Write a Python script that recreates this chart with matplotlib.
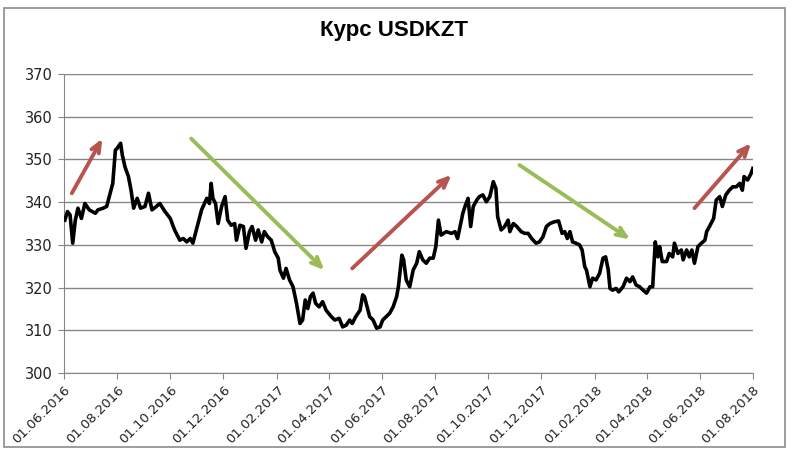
import pandas as pd
import matplotlib
matplotlib.use("Agg")
import matplotlib.pyplot as plt
import matplotlib.dates as mdates
from matplotlib.patches import Rectangle

# exchange rate USD/KZT
dates = [
    "2016-06-02", "2016-06-05", "2016-06-08", "2016-06-11", "2016-06-14", "2016-06-17",
    "2016-06-21", "2016-06-25", "2016-06-30", "2016-07-07", "2016-07-10", "2016-07-16",
    "2016-07-20", "2016-07-24", "2016-07-27", "2016-07-30", "2016-08-01", "2016-08-05",
    "2016-08-07", "2016-08-10", "2016-08-14", "2016-08-17", "2016-08-20", "2016-08-24",
    "2016-08-28", "2016-09-02", "2016-09-06", "2016-09-10", "2016-09-15", "2016-09-19",
    "2016-09-25", "2016-10-01", "2016-10-06", "2016-10-10", "2016-10-12", "2016-10-16",
    "2016-10-20", "2016-10-24", "2016-10-27", "2016-10-31", "2016-11-06", "2016-11-12",
    "2016-11-15", "2016-11-17", "2016-11-19", "2016-11-22", "2016-11-25", "2016-11-29",
    "2016-12-03", "2016-12-06", "2016-12-10", "2016-12-14", "2016-12-16", "2016-12-20",
    "2016-12-24", "2016-12-27", "2016-12-31", "2017-01-03", "2017-01-07", "2017-01-10",
    "2017-01-14", "2017-01-17", "2017-01-21", "2017-01-25", "2017-01-29", "2017-02-02",
    "2017-02-04", "2017-02-08", "2017-02-11", "2017-02-15", "2017-02-19", "2017-02-23",
    "2017-02-27", "2017-03-02", "2017-03-05", "2017-03-08", "2017-03-11", "2017-03-14",
    "2017-03-17", "2017-03-21", "2017-03-25", "2017-03-29", "2017-04-04", "2017-04-08",
    "2017-04-13", "2017-04-17", "2017-04-21", "2017-04-25", "2017-04-28", "2017-05-02",
    "2017-05-07", "2017-05-10", "2017-05-12", "2017-05-15", "2017-05-18", "2017-05-22",
    "2017-05-26", "2017-05-30", "2017-06-02", "2017-06-06", "2017-06-10", "2017-06-14",
    "2017-06-18", "2017-06-20", "2017-06-24", "2017-06-26", "2017-06-29", "2017-07-03",
    "2017-07-07", "2017-07-11", "2017-07-14", "2017-07-18", "2017-07-22", "2017-07-26",
    "2017-07-30", "2017-08-02", "2017-08-05", "2017-08-08", "2017-08-14", "2017-08-20",
    "2017-08-24", "2017-08-27", "2017-08-29", "2017-09-02", "2017-09-05", "2017-09-08",
    "2017-09-11", "2017-09-14", "2017-09-18", "2017-09-21", "2017-09-25", "2017-09-29",
    "2017-10-03", "2017-10-07", "2017-10-10", "2017-10-12", "2017-10-16", "2017-10-20",
    "2017-10-24", "2017-10-26", "2017-10-30", "2017-11-03", "2017-11-08", "2017-11-12",
    "2017-11-16", "2017-11-20", "2017-11-25", "2017-11-29", "2017-12-03", "2017-12-07",
    "2017-12-11", "2017-12-16", "2017-12-21", "2017-12-25", "2017-12-28", "2017-12-31",
    "2018-01-03", "2018-01-06", "2018-01-10", "2018-01-14", "2018-01-17", "2018-01-20",
    "2018-01-22", "2018-01-26", "2018-01-29", "2018-02-02", "2018-02-06", "2018-02-10",
    "2018-02-13", "2018-02-16", "2018-02-18", "2018-02-21", "2018-02-25", "2018-02-28",
    "2018-03-05", "2018-03-09", "2018-03-13", "2018-03-16", "2018-03-20", "2018-03-24",
    "2018-03-28", "2018-04-01", "2018-04-05", "2018-04-08", "2018-04-11", "2018-04-14",
    "2018-04-16", "2018-04-19", "2018-04-24", "2018-04-27", "2018-05-01", "2018-05-03",
    "2018-05-07", "2018-05-11", "2018-05-13", "2018-05-17", "2018-05-20", "2018-05-23",
    "2018-05-26", "2018-05-30", "2018-06-03", "2018-06-07", "2018-06-09", "2018-06-13",
    "2018-06-17", "2018-06-20", "2018-06-24", "2018-06-27", "2018-07-01", "2018-07-05",
    "2018-07-09", "2018-07-13", "2018-07-17", "2018-07-20", "2018-07-22", "2018-07-26",
    "2018-07-30", "2018-08-01",
]
rate = [
    335.8, 337.8, 337.0, 330.4, 335.8, 338.6,
    336.2, 339.7, 338.2, 337.4, 338.2, 338.6,
    339.0, 342.1, 344.4, 352.2, 352.6, 353.8,
    351.0, 348.3, 346.0, 342.8, 338.6, 340.9,
    338.6, 339.0, 342.1, 338.2, 339.0, 339.7,
    337.8, 336.2, 333.5, 331.9, 331.1, 331.5,
    330.7, 331.5, 330.4, 333.5, 338.2, 340.9,
    339.7, 344.4, 340.9, 339.7, 335.0, 339.0,
    341.3, 335.8, 334.6, 335.0, 331.1, 334.6,
    334.3, 329.2, 333.1, 334.3, 331.1, 333.5,
    330.7, 333.1, 331.9, 331.1, 328.4, 326.9,
    324.1, 322.2, 324.5, 321.8, 320.2, 316.3,
    311.6, 312.4, 317.1, 315.1, 317.9, 318.7,
    316.3, 315.5, 316.7, 314.7, 313.2, 312.4,
    312.8, 310.8, 311.2, 312.4, 311.6, 313.2,
    314.7, 318.3, 317.9, 315.5, 313.2, 312.4,
    310.5, 310.8, 312.4, 313.2, 314.0, 315.5,
    317.9, 320.2, 327.6, 326.5, 321.8, 320.2,
    324.1, 325.7, 328.4, 326.5, 325.7, 326.9,
    326.9, 329.6, 335.8, 332.3, 333.1, 332.7,
    333.1, 331.5, 333.5, 337.4, 339.3, 340.9,
    334.3, 339.0, 340.5, 341.3, 341.7, 340.1,
    341.3, 344.8, 343.2, 336.6, 333.5, 334.3,
    335.8, 333.1, 335.0, 334.3, 333.1, 332.7,
    332.7, 331.5, 330.4, 330.7, 331.9, 334.3,
    335.0, 335.4, 335.6, 332.7, 333.1, 331.5,
    333.1, 330.7, 330.4, 330.0, 328.8, 324.9,
    324.1, 320.2, 322.2, 321.8, 323.3, 326.9,
    327.2, 324.1, 319.8, 319.4, 319.8, 319.0,
    320.2, 322.2, 321.4, 322.5, 320.6, 320.2,
    319.4, 318.7, 320.2, 320.2, 330.7, 327.2,
    329.6, 326.1, 326.1, 328.0, 327.2, 330.4,
    328.0, 328.8, 326.5, 328.8, 327.2, 328.8,
    325.7, 329.6, 330.4, 331.1, 333.1, 334.6,
    336.2, 340.5, 341.3, 339.0, 341.7, 342.8,
    343.6, 343.6, 344.4, 342.8, 346.0, 345.2,
    346.7, 347.9,
]

# trend arrows: start/end points and colour
arrow_start_dates = ["2016-06-10", "2016-10-25", "2017-04-28", "2017-11-06", "2018-05-26"]
arrow_start_vals = [342.1, 354.9, 324.5, 348.7, 338.6]
arrow_end_dates = ["2016-07-15", "2017-03-27", "2017-08-20", "2018-03-13", "2018-07-30"]
arrow_end_vals = [354.9, 324.1, 346.4, 331.3, 353.8]
arrow_colors = ["#b85450", "#9bbb59", "#b85450", "#9bbb59", "#b85450"]

x = pd.to_datetime(dates)

fig = plt.figure(figsize=(8, 4.55), dpi=100)
ax = fig.add_axes([0.08, 0.1802, 0.861, 0.657])

# outer chart border like Excel
fig.patches.append(Rectangle((0.005, 0.0176), 0.976, 0.965, transform=fig.transFigure,
                             fill=False, edgecolor="#8c8c8c", linewidth=1.2))

ax.plot(x, rate, color="black", linewidth=2.6, solid_joinstyle="round", zorder=3)

for i in range(len(arrow_colors)):
    ax.annotate("", xy=(pd.Timestamp(arrow_end_dates[i]), arrow_end_vals[i]),
                xytext=(pd.Timestamp(arrow_start_dates[i]), arrow_start_vals[i]),
                arrowprops=dict(arrowstyle="->,head_length=0.7,head_width=0.3",
                                color=arrow_colors[i], lw=2.8, shrinkA=0, shrinkB=0),
                zorder=4)

ax.set_ylim(300, 370)
ax.set_yticks(range(300, 371, 10))
ax.set_xlim(pd.Timestamp("2016-06-01"), pd.Timestamp("2018-08-01"))
ax.xaxis.set_major_locator(mdates.MonthLocator(bymonth=[2, 4, 6, 8, 10, 12], bymonthday=1))
ax.xaxis.set_major_formatter(mdates.DateFormatter("%d.%m.%Y"))

ax.grid(axis="y", color="#868686", linewidth=1)
ax.set_axisbelow(True)
for s in ["top", "right"]:
    ax.spines[s].set_visible(False)
for s in ["left", "bottom"]:
    ax.spines[s].set_color("#868686")
ax.tick_params(axis="both", color="#868686", length=4, labelsize=10.5, labelcolor="#222222")
ax.tick_params(axis="y", pad=4)
for lab in ax.get_xticklabels():
    lab.set_rotation(45)
    lab.set_ha("right")
    lab.set_rotation_mode("anchor")
    lab.set_fontsize(9.5)

fig.suptitle("Курс USDKZT", x=0.493, y=0.955, fontsize=16, fontweight="bold",
             family=["Liberation Sans", "DejaVu Sans"])

fig.savefig("out.png", dpi=100, facecolor="white")
